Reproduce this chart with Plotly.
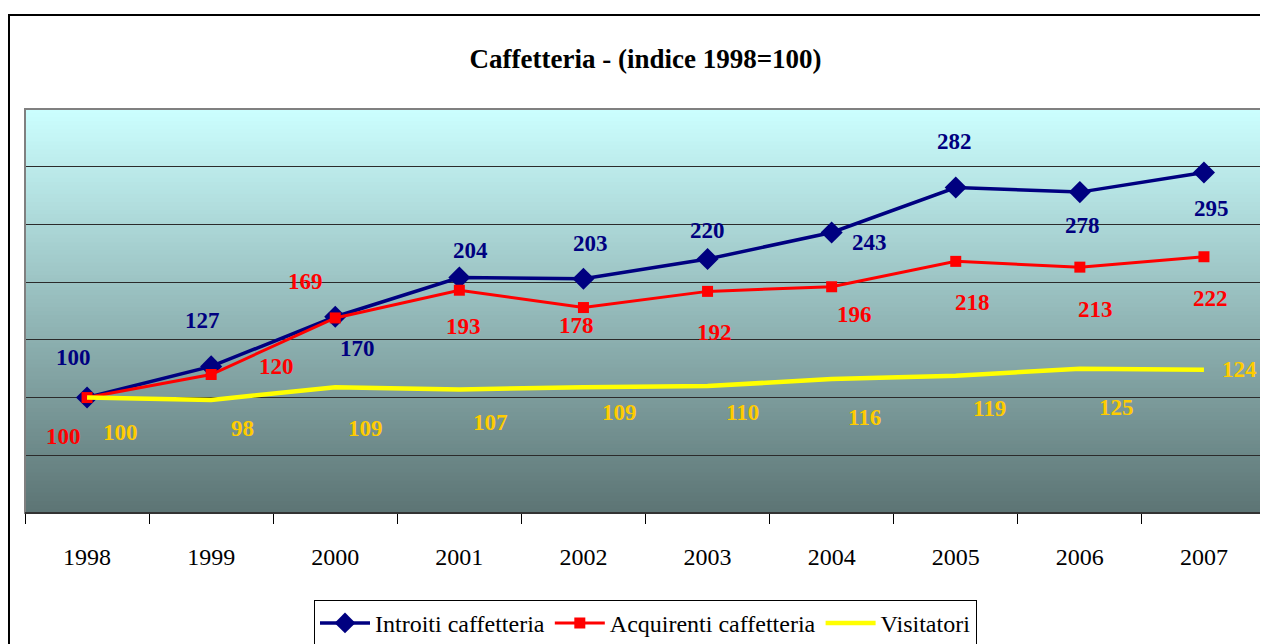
import plotly.graph_objects as go

years = ["1998", "1999", "2000", "2001", "2002", "2003", "2004", "2005", "2006", "2007"]
introiti = [100, 127, 170, 204, 203, 220, 243, 282, 278, 295]
acquirenti = [100, 120, 169, 193, 178, 192, 196, 218, 213, 222]
visitatori = [100, 98, 109, 107, 109, 110, 116, 119, 125, 124]

# label offsets (px) as placed by hand in the original sheet
off_introiti = [(-14, 40), (-9, 46), (22, -32), (11, 27), (7, 35), (0, 29), (38, -10), (-1, 46), (3, -33), (8, -36)]
off_acquirenti = [(-24, -39), (65, 8), (-30, 36), (4, -36), (-7, -18), (7, -41), (23, -28), (17, -41), (16, -42), (7, -42)]
off_visitatori = [(33, -35), (31, -29), (30, -41), (31, -33), (36, -25), (35, -26), (33, -38), (34, -33), (37, -39), (36, 0)]

SERIF = "Liberation Serif"
NAVY = "#000080"
RED = "#FF0000"
YELLOW = "#FFFF00"
GOLD = "#FFCC00"

fig = go.Figure()

fig.add_trace(go.Scatter(
    x=years, y=introiti, name="Introiti caffetteria", mode="lines+markers",
    line=dict(color=NAVY, width=3.5),
    marker=dict(symbol="diamond", size=17, color=NAVY),
))
fig.add_trace(go.Scatter(
    x=years, y=acquirenti, name="Acquirenti caffetteria", mode="lines+markers",
    line=dict(color=RED, width=3),
    marker=dict(symbol="square", size=11, color=RED),
))
fig.add_trace(go.Scatter(
    x=years, y=visitatori, name="Visitatori", mode="lines",
    line=dict(color=YELLOW, width=4.5),
))

annotations = []
for vals, offs, col in [(introiti, off_introiti, NAVY),
                        (acquirenti, off_acquirenti, RED),
                        (visitatori, off_visitatori, GOLD)]:
    for i, (v, (dx, dy)) in enumerate(zip(vals, offs)):
        # category index, a "1998" string would be read as a position
        annotations.append(dict(
            x=i, y=v, text=f"<b>{v}</b>", showarrow=False,
            xshift=dx, yshift=dy,
            font=dict(family=SERIF, size=23, color=col),
        ))

# vertical gradient for the plot area
shapes = []
n = 100
top = (204, 255, 255)
bot = (92, 116, 116)
for i in range(n):
    t = (i + 0.5) / n
    c = tuple(int(round(top[k] + (bot[k] - top[k]) * t)) for k in range(3))
    shapes.append(dict(
        type="rect", xref="x domain", yref="y domain",
        x0=0, x1=1, y0=max(0, 1 - (i + 1.6) / n), y1=1 - i / n,
        fillcolor="rgb(%d,%d,%d)" % c, line=dict(width=0), layer="below",
    ))
# plot area border
shapes.append(dict(type="rect", xref="x domain", yref="y domain", x0=0, x1=1, y0=0, y1=1,
                   line=dict(color="#808080", width=2), layer="above"))
shapes.append(dict(type="line", xref="x domain", yref="y domain", x0=0, x1=1, y0=0, y1=0,
                   line=dict(color="#333333", width=2), layer="above"))
# chart border
shapes.append(dict(type="rect", xref="paper", yref="paper", x0=-0.0129, x1=1.02, y0=-0.4, y1=1.2327,
                   line=dict(color="black", width=2)))

# page body has an 8px margin, so the figure is sized and offset for it
fig.update_layout(
    width=1260, height=636,
    margin=dict(l=17, r=2, t=101, b=131, autoexpand=False),
    paper_bgcolor="white",
    plot_bgcolor="rgba(0,0,0,0)",
    title=dict(text="<b>Caffetteria - (indice 1998=100)</b>", x=0.5, xref="paper", xanchor="center",
               y=0.921, yref="container", yanchor="middle",
               font=dict(family=SERIF, size=27, color="black")),
    font=dict(family=SERIF, color="black"),
    showlegend=True,
    legend=dict(orientation="h", x=0.5, xanchor="center", y=-0.215, yanchor="top",
                bgcolor="white", bordercolor="black", borderwidth=1,
                font=dict(family=SERIF, size=24, color="black"),
                itemwidth=50, tracegroupgap=0),
    xaxis=dict(type="category", range=[-0.5, 9.5], tickson="boundaries", ticks="outside", ticklen=10,
               tickcolor="black", showgrid=False, showline=False, tickangle=0,
               tickfont=dict(family=SERIF, size=24, color="black"),
               ticklabelstandoff=27),
    yaxis=dict(range=[0, 350], dtick=50, showticklabels=False, showgrid=True,
               gridcolor="#2b2b2b", gridwidth=1, zeroline=False, showline=False, ticks=""),
    shapes=shapes,
    annotations=annotations,
)

fig.write_html("out.html")
